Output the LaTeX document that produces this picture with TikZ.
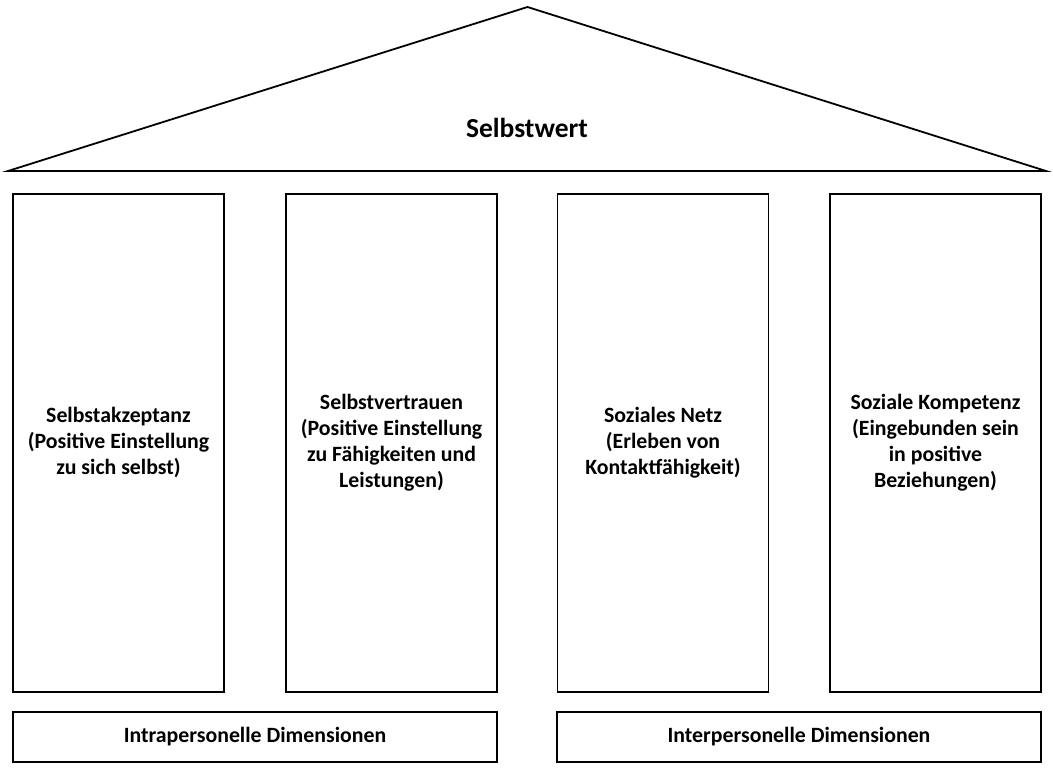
\documentclass[tikz,border=0pt]{standalone}
\usepackage{fontspec}
\setmainfont{Carlito}
\usetikzlibrary{positioning}

\begin{document}
\begin{tikzpicture}[x=1pt, y=-1pt, line width=1.8pt,
  pillar/.style={draw, minimum width=211pt, minimum height=498pt, inner sep=0pt,
    align=center, font=\fontsize{21.8}{26}\selectfont\bfseries},
  basebox/.style={draw, minimum width=484pt, minimum height=50pt, inner sep=0pt,
    font=\fontsize{21.8}{26}\selectfont\bfseries}]
\useasboundingbox (0,0) rectangle (1053,770);

% Roof
\coordinate (eaveL) at (8,171);
\coordinate (ridge) at (527.5,7);
\coordinate (eaveR) at (1046,171);
\draw[line join=miter] (eaveL) -- (ridge) -- (eaveR) -- cycle;
\node[anchor=base, font=\fontsize{27.5}{32}\selectfont\bfseries] (title) at (527,138) {Selbstwert};

% Pillars
\node[pillar] (akzeptanz) at (118.5,443) {Selbstakzeptanz\\(Positive Einstellung\\zu sich selbst)};
\node[pillar] (vertrauen) at (391.5,443) {Selbstvertrauen\\(Positive Einstellung\\zu Fähigkeiten und\\Leistungen)};
\node[pillar] (netz) at (663,443) {Soziales Netz\\(Erleben von\\Kontaktfähigkeit)};
\node[pillar] (kompetenz) at (935.5,443) {Soziale Kompetenz\\(Eingebunden sein\\in positive\\Beziehungen)};

% Dimensions
\node[basebox] (intra) at (255,737) {Intrapersonelle Dimensionen};
\node[basebox] (inter) at (799,737) {Interpersonelle Dimensionen};
\end{tikzpicture}
\end{document}
